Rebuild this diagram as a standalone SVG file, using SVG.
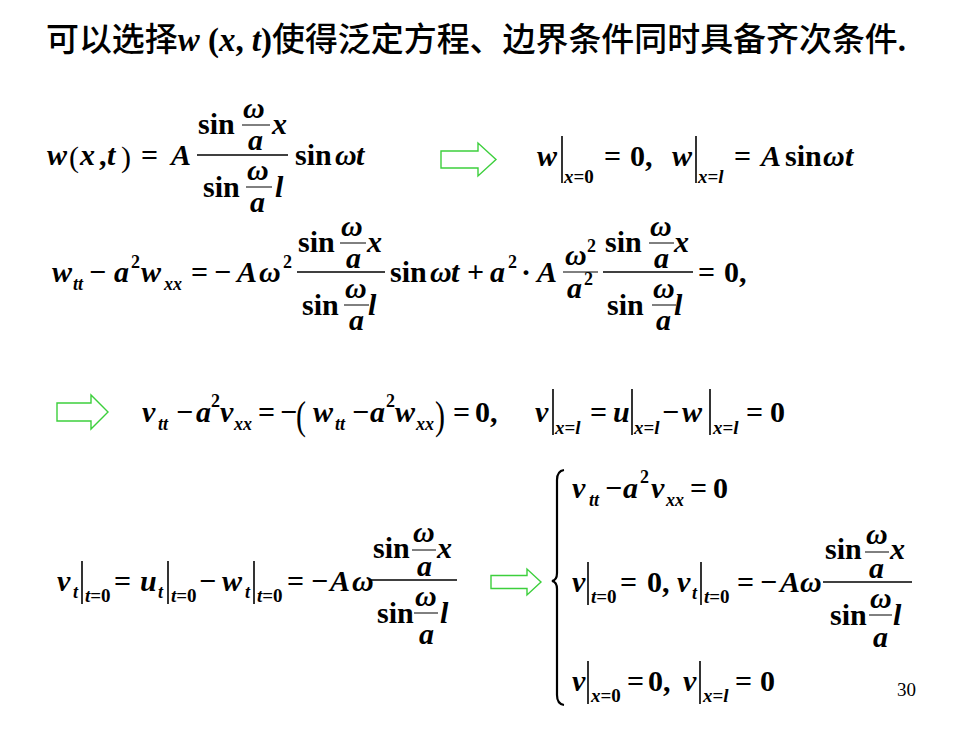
<svg xmlns="http://www.w3.org/2000/svg" width="980" height="735" viewBox="0 0 980 735">
<style>
text{font-family:"Liberation Serif","Times New Roman",serif;font-weight:bold;font-size:30px;fill:#000}
.i{font-style:italic}
.s{font-size:19px}
.u{font-size:18px}
.n{font-weight:normal}
.cjk{font-family:"Noto Sans CJK SC","Noto Sans",sans-serif;font-weight:500;font-size:33px}
.pg{font-weight:normal;font-size:19px}
line.fb{stroke:#000;stroke-width:1.6}
line.sb{stroke:#000;stroke-width:1}
line.ev{stroke:#000;stroke-width:1.6}
.arrow{fill:#fff;stroke:#3ccf3c;stroke-width:1.4}
.brace{fill:none;stroke:#000;stroke-width:2.2}
</style>
<rect width="980" height="735" fill="#fff"/>

<g id="title">
<text x="46" y="51" textLength="860" lengthAdjust="spacingAndGlyphs"><tspan class="cjk">可以选择</tspan><tspan class="i" font-size="33">w</tspan><tspan font-size="33"> (</tspan><tspan class="i" font-size="33">x</tspan><tspan font-size="33">, </tspan><tspan class="i" font-size="33">t</tspan><tspan font-size="33">)</tspan><tspan class="cjk">使得泛定方程、边界条件同时具备齐次条件</tspan><tspan font-size="33">.</tspan></text>
</g>

<g id="eq1">
<text x="47" y="165" class="i">w</text>
<text x="69" y="167" class="n" font-size="36">(</text>
<text x="80" y="165" class="i">x</text>
<text x="99" y="165">,</text>
<text x="107" y="165" class="i">t</text>
<text x="121" y="167" class="n" font-size="36">)</text>
<text x="141" y="165">=</text>
<text x="171" y="165" class="i">A</text>
<line class="fb" x1="197" y1="155" x2="288" y2="155"/>
<text x="198" y="134">sin</text>
<text x="243" y="118" class="i">ω</text>
<line class="sb" x1="242" y1="125" x2="270" y2="125"/>
<text x="248" y="150" class="i">a</text>
<text x="272" y="134" class="i">x</text>
<text x="203" y="197">sin</text>
<text x="247" y="180" class="i">ω</text>
<line class="sb" x1="246" y1="187" x2="272" y2="187"/>
<text x="250" y="212" class="i">a</text>
<text x="275" y="197" class="i">l</text>
<text x="295" y="165">sin</text>
<text x="335" y="165" class="i">ω</text>
<text x="356" y="165" class="i">t</text>
</g>

<g id="eq1-bc">
<text x="537" y="166" class="i">w</text>
<line class="ev" x1="562" y1="136" x2="562" y2="183"/>
<text x="564" y="183" class="s"><tspan class="i">x</tspan>=0</text>
<text x="604" y="166">=</text>
<text x="630" y="166">0,</text>
<text x="672" y="166" class="i">w</text>
<line class="ev" x1="696" y1="136" x2="696" y2="183"/>
<text x="698" y="183" class="s"><tspan class="i">x</tspan>=<tspan class="i">l</tspan></text>
<text x="734" y="166">=</text>
<text x="761" y="166" class="i">A</text>
<text x="785" y="166">sin</text>
<text x="823" y="166" class="i">ω</text>
<text x="845" y="166" class="i">t</text>
</g>

<g id="eq2">
<text x="52" y="282" class="i">w</text>
<text x="73" y="290" class="u i">tt</text>
<text x="89" y="282">−</text>
<text x="114" y="282" class="i">a</text>
<text x="131" y="268" class="u">2</text>
<text x="141" y="282" class="i">w</text>
<text x="164" y="290" class="u i">xx</text>
<text x="191" y="282">=</text>
<text x="214" y="282">−</text>
<text x="237" y="282" class="i">A</text>
<text x="259" y="282" class="i">ω</text>
<text x="283" y="268" class="u">2</text>
<line class="fb" x1="297" y1="272" x2="385" y2="272"/>
<text x="298" y="252">sin</text>
<text x="341" y="236" class="i">ω</text>
<line class="sb" x1="340" y1="243" x2="366" y2="243"/>
<text x="346" y="268" class="i">a</text>
<text x="367" y="252" class="i">x</text>
<text x="302" y="315">sin</text>
<text x="345" y="298" class="i">ω</text>
<line class="sb" x1="344" y1="305" x2="369" y2="305"/>
<text x="349" y="330" class="i">a</text>
<text x="368" y="315" class="i">l</text>
<text x="390" y="282">sin</text>
<text x="430" y="282" class="i">ω</text>
<text x="451" y="282" class="i">t</text>
<text x="467" y="282">+</text>
<text x="490" y="282" class="i">a</text>
<text x="508" y="268" class="u">2</text>
<text x="521" y="282">·</text>
<text x="537" y="282" class="i">A</text>
<text x="565" y="265" class="i">ω</text>
<text x="587" y="252" class="u">2</text>
<line class="sb" x1="563" y1="272" x2="598" y2="272"/>
<text x="567" y="298" class="i">a</text>
<text x="584" y="285" class="u">2</text>
<line class="fb" x1="603" y1="272" x2="693" y2="272"/>
<text x="605" y="252">sin</text>
<text x="650" y="236" class="i">ω</text>
<line class="sb" x1="649" y1="243" x2="674" y2="243"/>
<text x="654" y="268" class="i">a</text>
<text x="674" y="252" class="i">x</text>
<text x="607" y="315">sin</text>
<text x="653" y="298" class="i">ω</text>
<line class="sb" x1="652" y1="305" x2="676" y2="305"/>
<text x="656" y="330" class="i">a</text>
<text x="674" y="315" class="i">l</text>
<text x="698" y="282">=</text>
<text x="724" y="282">0,</text>
</g>

<g id="eq3">
<text x="142" y="422" class="i">v</text>
<text x="158" y="430" class="u i">tt</text>
<text x="176" y="422">−</text>
<text x="196" y="422" class="i">a</text>
<text x="211" y="407" class="u">2</text>
<text x="220" y="422" class="i">v</text>
<text x="234" y="430" class="u i">xx</text>
<text x="258" y="422">=</text>
<text x="280" y="422">−</text>
<text class="n" font-size="40" transform="translate(296,429) scale(1,1.3)">(</text>
<text x="313" y="422" class="i">w</text>
<text x="335" y="430" class="u i">tt</text>
<text x="352" y="422">−</text>
<text x="370" y="422" class="i">a</text>
<text x="386" y="407" class="u">2</text>
<text x="395" y="422" class="i">w</text>
<text x="416" y="430" class="u i">xx</text>
<text class="n" font-size="40" transform="translate(435,429) scale(1,1.3)">)</text>
<text x="453" y="422">=</text>
<text x="475" y="422">0,</text>
<text x="535" y="422" class="i">v</text>
<line class="ev" x1="553" y1="389" x2="553" y2="435"/>
<text x="555" y="434" class="s"><tspan class="i">x</tspan>=<tspan class="i">l</tspan></text>
<text x="590" y="422">=</text>
<text x="613" y="422" class="i">u</text>
<line class="ev" x1="632" y1="389" x2="632" y2="435"/>
<text x="634" y="434" class="s"><tspan class="i">x</tspan>=<tspan class="i">l</tspan></text>
<text x="662" y="422">−</text>
<text x="682" y="422" class="i">w</text>
<line class="ev" x1="710" y1="389" x2="710" y2="435"/>
<text x="713" y="434" class="s"><tspan class="i">x</tspan>=<tspan class="i">l</tspan></text>
<text x="746" y="422">=</text>
<text x="770" y="422">0</text>
</g>

<g id="eq4">
<text x="57" y="591" class="i">v</text>
<text x="73" y="598" class="u i">t</text>
<line class="ev" x1="82" y1="561" x2="82" y2="604"/>
<text x="85" y="602" class="s"><tspan class="i">t</tspan>=0</text>
<text x="114" y="591">=</text>
<text x="140" y="591" class="i">u</text>
<text x="158" y="598" class="u i">t</text>
<line class="ev" x1="168" y1="561" x2="168" y2="604"/>
<text x="171" y="602" class="s"><tspan class="i">t</tspan>=0</text>
<text x="199" y="591">−</text>
<text x="222" y="591" class="i">w</text>
<text x="245" y="598" class="u i">t</text>
<line class="ev" x1="254" y1="561" x2="254" y2="604"/>
<text x="257" y="602" class="s"><tspan class="i">t</tspan>=0</text>
<text x="287" y="591">=</text>
<text x="311" y="591">−</text>
<text x="330" y="591" class="i">A</text>
<text x="352" y="591" class="i">ω</text>
<line class="fb" x1="370" y1="580" x2="457" y2="580"/>
<text x="373" y="558">sin</text>
<text x="413" y="542" class="i">ω</text>
<line class="sb" x1="412" y1="550" x2="436" y2="550"/>
<text x="417" y="576" class="i">a</text>
<text x="437" y="558" class="i">x</text>
<text x="377" y="623">sin</text>
<text x="415" y="606" class="i">ω</text>
<line class="sb" x1="414" y1="613" x2="438" y2="613"/>
<text x="419" y="644" class="i">a</text>
<text x="440" y="623" class="i">l</text>
</g>

<g id="system">
<path class="brace" d="M564,470 Q557,471 557,480 L557,573 Q557,580 552,581 Q557,582 557,589 L557,695 Q557,704 564,705"/>
<text x="572" y="498" class="i">v</text>
<text x="589" y="506" class="u i">tt</text>
<text x="605" y="498">−</text>
<text x="623" y="498" class="i">a</text>
<text x="640" y="483" class="u">2</text>
<text x="651" y="498" class="i">v</text>
<text x="666" y="506" class="u i">xx</text>
<text x="690" y="498">=</text>
<text x="713" y="498">0</text>

<text x="572" y="592" class="i">v</text>
<line class="ev" x1="588" y1="562" x2="588" y2="605"/>
<text x="591" y="603" class="s"><tspan class="i">t</tspan>=0</text>
<text x="620" y="592">=</text>
<text x="647" y="592">0,</text>
<text x="677" y="592" class="i">v</text>
<text x="692" y="599" class="u i">t</text>
<line class="ev" x1="701" y1="562" x2="701" y2="605"/>
<text x="704" y="603" class="s"><tspan class="i">t</tspan>=0</text>
<text x="737" y="592">=</text>
<text x="760" y="592">−</text>
<text x="780" y="592" class="i">A</text>
<text x="800" y="592" class="i">ω</text>
<line class="fb" x1="823" y1="582" x2="912" y2="582"/>
<text x="825" y="559">sin</text>
<text x="866" y="544" class="i">ω</text>
<line class="sb" x1="865" y1="552" x2="889" y2="552"/>
<text x="869" y="578" class="i">a</text>
<text x="890" y="559" class="i">x</text>
<text x="830" y="625">sin</text>
<text x="870" y="608" class="i">ω</text>
<line class="sb" x1="869" y1="615" x2="892" y2="615"/>
<text x="873" y="647" class="i">a</text>
<text x="893" y="625" class="i">l</text>

<text x="572" y="691" class="i">v</text>
<line class="ev" x1="588" y1="661" x2="588" y2="704"/>
<text x="591" y="702" class="s"><tspan class="i">x</tspan>=0</text>
<text x="627" y="691">=</text>
<text x="648" y="691">0,</text>
<text x="683" y="691" class="i">v</text>
<line class="ev" x1="700" y1="661" x2="700" y2="704"/>
<text x="703" y="702" class="s"><tspan class="i">x</tspan>=<tspan class="i">l</tspan></text>
<text x="735" y="691">=</text>
<text x="760" y="691">0</text>
</g>

<g id="page-number">
<text x="897" y="696" class="pg">30</text>
</g>

<g id="connectors">
<polygon class="arrow" points="441,151 478,151 478,143 496,159.5 478,176 478,168 441,168"/>
<polygon class="arrow" points="57,403 91,403 91,395 108,412 91,429 91,421 57,421"/>
<polygon class="arrow" points="491,575.5 527,575.5 527,569 541,582 527,595 527,588.5 491,588.5"/>
</g>
</svg>
